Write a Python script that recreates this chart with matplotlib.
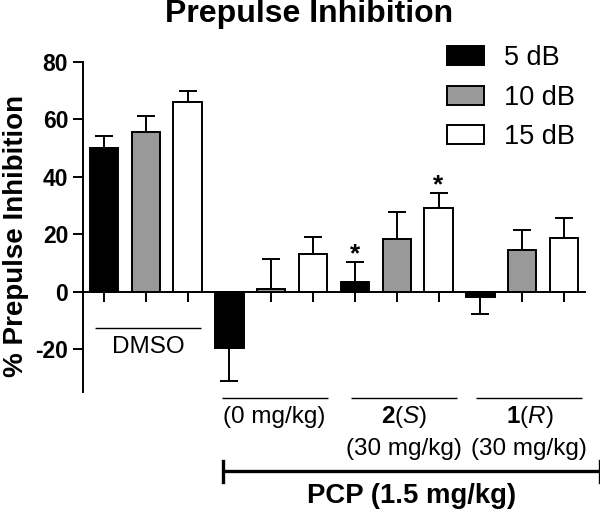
import matplotlib
matplotlib.use("Agg")
import matplotlib.pyplot as plt
from matplotlib.patches import Patch
import numpy as np

plt.rcParams['font.family'] = ['Liberation Sans', 'DejaVu Sans']
plt.rcParams['mathtext.fontset'] = 'custom'
plt.rcParams['mathtext.rm'] = 'Liberation Sans'
plt.rcParams['mathtext.it'] = 'Liberation Sans:italic'
plt.rcParams['mathtext.bf'] = 'Liberation Sans:bold'

# Data
groups = ["DMSO", "PCP 0", "2(S) 30", "1(R) 30"]
series = ["5 dB", "10 dB", "15 dB"]
val_5 = [50.1, -19.8, 3.3, -1.9]
err_5 = [4.0, 11.3, 7.1, 6.0]
val_10 = [55.5, 1.0, 18.2, 14.6]
err_10 = [5.8, 10.2, 9.4, 6.8]
val_15 = [66.2, 13.2, 29.0, 18.8]
err_15 = [3.6, 5.7, 5.4, 6.8]
colors = ["#000000", "#999999", "#ffffff"]
yticks = [-20, 0, 20, 40, 60, 80]
# significance: (group index, series index)
stars = [(2, 0), (2, 2)]

fig = plt.figure(figsize=(6.0, 5.11), dpi=100)
ax = fig.add_axes([83/600, 1-392/511, 502/600, 330/511])

vals = [val_5, val_10, val_15]
errs = [err_5, err_10, err_15]
lw = 1.4
for s in range(3):
    xs = np.arange(len(groups)) * 3 + s
    v = np.array(vals[s]); e = np.array(errs[s])
    lower = np.where(v < 0, e, 0)
    upper = np.where(v >= 0, e, 0)
    ax.errorbar(xs, v, yerr=[lower, upper], fmt='none', ecolor='black',
                elinewidth=lw, capsize=6.5, capthick=lw, zorder=2)
    ax.bar(xs, v, width=0.68, color=colors[s], edgecolor='black',
           linewidth=lw, zorder=3, label=series[s])

for g, s in stars:
    x = g * 3 + s
    v = vals[s][g]; e = errs[s][g]
    ax.text(x, v + e + 0.3, "*", ha='center', va='baseline', fontsize=19,
            fontweight='bold')

ax.set_xlim(-0.5, 11.5)
ax.set_ylim(-35, 80)
ax.set_yticks(yticks)
ax.set_yticklabels([str(t) for t in yticks], fontsize=16.5, fontweight='bold')
ax.set_xticks(np.arange(12))
ax.set_xticklabels([])
ax.tick_params(axis='both', direction='out', length=7.2, width=lw)
ax.spines['top'].set_visible(False)
ax.spines['right'].set_visible(False)
ax.spines['bottom'].set_position(('data', 0))
ax.spines['left'].set_linewidth(lw)
ax.spines['bottom'].set_linewidth(lw)

# Group annotations (data x, data y, unclipped)
def hline(x0, x1, y, lw_=1.0):
    ax.plot([x0, x1], [y, y], color='black', lw=lw_, clip_on=False,
            solid_capstyle='butt')

hline(-0.22, 2.32, -12.8)
ax.text(1.06, -19.4, "DMSO", ha='center', va='center', fontsize=17.5,
        clip_on=False)
for x0, x1 in [(2.82, 5.35), (5.9, 8.44), (8.9, 11.43)]:
    hline(x0, x1, -37.2)
fs = 17.5
ax.text(4.08, -43.7, "(0 mg/kg)", ha='center', va='center', fontsize=fs)
ax.text(7.17, -43.7, r"$\mathbf{2}$($\mathit{S}$)", ha='center', va='center', fontsize=fs)
ax.text(10.17, -43.7, r"$\mathbf{1}$($\mathit{R}$)", ha='center', va='center', fontsize=fs)
ax.text(7.17, -54.9, "(30 mg/kg)", ha='center', va='center', fontsize=fs)
ax.text(10.17, -54.9, "(30 mg/kg)", ha='center', va='center', fontsize=fs)

# PCP bracket
hline(2.85, 11.85, -62.7, lw_=2.4)
for x in [2.85, 11.85]:
    ax.plot([x, x], [-62.7 - 3.6, -62.7 + 3.6], color='black', lw=2.4,
            clip_on=False)
ax.text(7.35, -71.2, "PCP (1.5 mg/kg)", ha='center', va='center',
        fontsize=19.8, fontweight='bold')

fig.text(0.515, 1 - 14/511, "Prepulse Inhibition", ha='center', va='center',
         fontsize=23, fontweight='bold')
fig.text(16/600, 1 - 236/511, "% Prepulse Inhibition", ha='center', va='center',
         rotation=90, fontsize=20, fontweight='bold')

handles = [Patch(facecolor=c, edgecolor='black', linewidth=lw) for c in colors]
fig.legend(handles, series, loc='upper left',
           bbox_to_anchor=(447/600, 1 - 45/511), frameon=False, fontsize=19.5,
           handlelength=1.35, handleheight=0.7, handletextpad=0.75,
           labelspacing=0.5, borderaxespad=0, borderpad=0)

fig.savefig("out.png", dpi=100)
